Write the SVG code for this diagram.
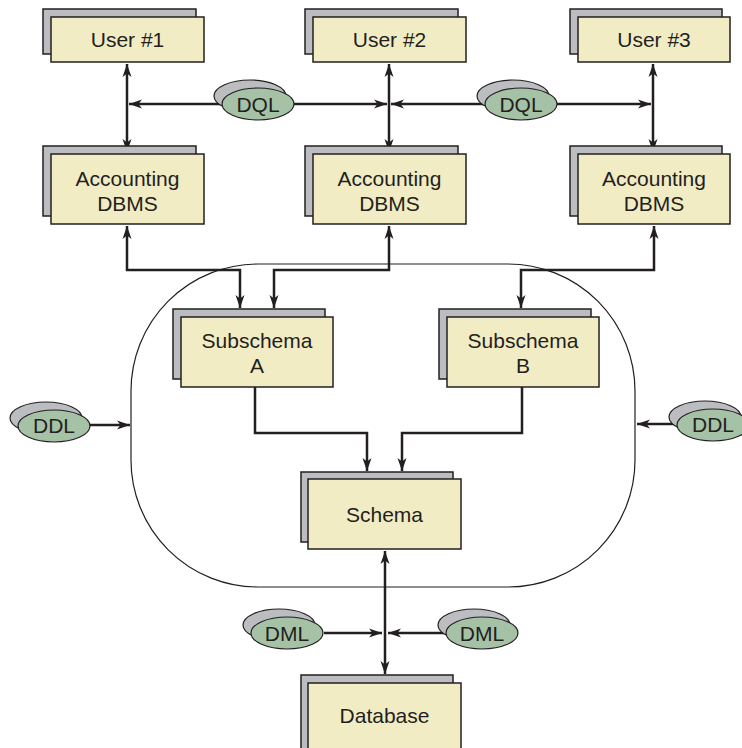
<svg xmlns="http://www.w3.org/2000/svg" width="742" height="748" viewBox="0 0 742 748">
  <style>
    .back { fill: #bcbdc0; stroke: #231f20; stroke-width: 1.5; }
    .front { fill: #f2ecc4; stroke: #231f20; stroke-width: 1.5; }
    .eback { fill: #bcbdc0; stroke: #231f20; stroke-width: 1.2; }
    .efront { fill: #a6c2a6; stroke: #231f20; stroke-width: 1.2; }
    .lbl { font-family: "Liberation Sans", Arial, sans-serif; font-size: 21px; fill: #231f20; text-anchor: middle; }
    .conn { fill: none; stroke: #231f20; stroke-width: 2.5; }
    .bi { marker-start: url(#arrow); marker-end: url(#arrow); }
    .uni { marker-end: url(#arrow); }
    .frame { fill: none; stroke: #231f20; stroke-width: 1.2; }
  </style>
  <defs>
    <marker id="arrow" markerUnits="userSpaceOnUse" markerWidth="14" markerHeight="12" refX="13" refY="5" orient="auto-start-reverse" viewBox="0 0 14 10">
      <path d="M0,0.5 L13,5 L0,9.5 L3.5,5 Z" fill="#231f20"/>
    </marker>
  </defs>

  <rect width="742" height="748" fill="#ffffff"/>

  <!-- rounded boundary around the conceptual layer -->
  <rect class="frame" x="131" y="264" width="504" height="323" rx="127" ry="127"/>

  <g id="connectors">
    <!-- user to DBMS -->
    <path class="conn bi" d="M127,64 V152"/>
    <path class="conn bi" d="M389,64 V152"/>
    <path class="conn bi" d="M653,64 V152"/>
    <!-- DQL feeds -->
    <path class="conn uni" d="M222,104 H129"/>
    <path class="conn uni" d="M294,104 H387"/>
    <path class="conn uni" d="M485,104 H391"/>
    <path class="conn uni" d="M557,104 H651"/>
    <!-- DBMS to subschemas -->
    <path class="conn bi" d="M127,226 V270 H240 V308"/>
    <path class="conn bi" d="M389,226 V270 H274 V308"/>
    <path class="conn bi" d="M654,226 V270 H521 V308"/>
    <!-- subschemas to schema -->
    <path class="conn uni" d="M255,387 V433 H367 V471"/>
    <path class="conn uni" d="M522,387 V433 H402 V471"/>
    <!-- schema to database -->
    <path class="conn bi" d="M385,551 V674"/>
    <!-- DML feeds -->
    <path class="conn uni" d="M324,633 H382"/>
    <path class="conn uni" d="M446,633 H388"/>
    <!-- DDL feeds -->
    <path class="conn uni" d="M89,425 H130"/>
    <path class="conn uni" d="M677,424 H637"/>
  </g>

  <g id="user1">
    <rect class="back" x="43" y="9" width="153" height="45"/>
    <rect class="front" x="51" y="17" width="153" height="45"/>
    <text class="lbl" x="127.5" y="47">User #1</text>
  </g>
  <g id="user2">
    <rect class="back" x="305" y="9" width="153" height="45"/>
    <rect class="front" x="313" y="17" width="153" height="45"/>
    <text class="lbl" x="389.5" y="47">User #2</text>
  </g>
  <g id="user3">
    <rect class="back" x="570" y="9" width="152" height="45"/>
    <rect class="front" x="578" y="17" width="152" height="45"/>
    <text class="lbl" x="654" y="47">User #3</text>
  </g>

  <g id="dbms1">
    <rect class="back" x="43" y="146" width="153" height="70"/>
    <rect class="front" x="51" y="154" width="153" height="70"/>
    <text class="lbl" x="127.5" y="186">Accounting</text>
    <text class="lbl" x="127.5" y="211">DBMS</text>
  </g>
  <g id="dbms2">
    <rect class="back" x="305" y="146" width="153" height="70"/>
    <rect class="front" x="313" y="154" width="153" height="70"/>
    <text class="lbl" x="389.5" y="186">Accounting</text>
    <text class="lbl" x="389.5" y="211">DBMS</text>
  </g>
  <g id="dbms3">
    <rect class="back" x="570" y="146" width="152" height="70"/>
    <rect class="front" x="578" y="154" width="152" height="70"/>
    <text class="lbl" x="654" y="186">Accounting</text>
    <text class="lbl" x="654" y="211">DBMS</text>
  </g>

  <g id="subschemaA">
    <rect class="back" x="173" y="309" width="152" height="70"/>
    <rect class="front" x="181" y="317" width="152" height="70"/>
    <text class="lbl" x="257" y="348">Subschema</text>
    <text class="lbl" x="257" y="373">A</text>
  </g>
  <g id="subschemaB">
    <rect class="back" x="439" y="309" width="152" height="70"/>
    <rect class="front" x="447" y="317" width="152" height="70"/>
    <text class="lbl" x="523" y="348">Subschema</text>
    <text class="lbl" x="523" y="373">B</text>
  </g>

  <g id="schema">
    <rect class="back" x="301" y="472" width="152" height="70"/>
    <rect class="front" x="308" y="479" width="153" height="70"/>
    <text class="lbl" x="384.5" y="521.5">Schema</text>
  </g>

  <g id="database">
    <rect class="back" x="301" y="675" width="152" height="90"/>
    <rect class="front" x="308" y="683" width="153" height="90"/>
    <text class="lbl" x="384.5" y="723">Database</text>
  </g>

  <g id="dql1">
    <ellipse class="eback" cx="250" cy="96" rx="36" ry="16"/>
    <ellipse class="efront" cx="258" cy="104" rx="36" ry="16"/>
    <text class="lbl" x="258" y="111.5">DQL</text>
  </g>
  <g id="dql2">
    <ellipse class="eback" cx="513" cy="96" rx="36" ry="16"/>
    <ellipse class="efront" cx="521" cy="104" rx="36" ry="16"/>
    <text class="lbl" x="521" y="111.5">DQL</text>
  </g>
  <g id="ddl-left">
    <ellipse class="eback" cx="46" cy="418" rx="36" ry="16"/>
    <ellipse class="efront" cx="54" cy="426" rx="36" ry="16"/>
    <text class="lbl" x="54" y="433">DDL</text>
  </g>
  <g id="ddl-right">
    <ellipse class="eback" cx="705" cy="417" rx="36" ry="16"/>
    <ellipse class="efront" cx="713" cy="425" rx="36" ry="16"/>
    <text class="lbl" x="713" y="432">DDL</text>
  </g>
  <g id="dml-left">
    <ellipse class="eback" cx="279" cy="625" rx="36" ry="16"/>
    <ellipse class="efront" cx="287" cy="633" rx="36" ry="16"/>
    <text class="lbl" x="287" y="640.5">DML</text>
  </g>
  <g id="dml-right">
    <ellipse class="eback" cx="474" cy="625" rx="36" ry="16"/>
    <ellipse class="efront" cx="482" cy="633" rx="36" ry="16"/>
    <text class="lbl" x="482" y="640.5">DML</text>
  </g>
</svg>
